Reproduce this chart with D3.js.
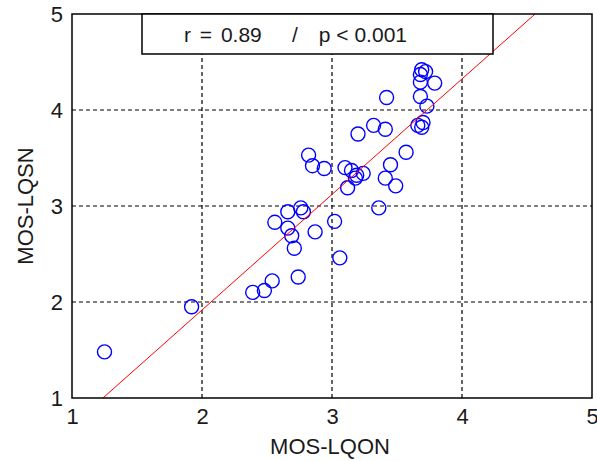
<!DOCTYPE html>
<html><head><meta charset="utf-8">
<script src="https://cdn.jsdelivr.net/npm/d3@7"></script>
<style>body{margin:0;background:#fff}svg{display:block}</style>
</head><body>
<script>
const xValues = [1.25,1.92,2.39,2.48,2.54,2.74,2.71,2.69,2.66,2.56,2.66,2.76,2.78,2.87,3.02,3.06,3.36,2.82,2.85,2.94,3.10,3.15,3.19,3.24,3.18,3.12,3.20,3.32,3.41,3.45,3.41,3.49,3.57,3.42,3.69,3.68,3.72,3.68,3.79,3.68,3.73,3.66,3.69,3.70];
const yValues = [1.48,1.95,2.10,2.12,2.22,2.26,2.56,2.69,2.77,2.83,2.94,2.98,2.94,2.73,2.84,2.46,2.98,3.53,3.42,3.39,3.40,3.37,3.32,3.34,3.29,3.19,3.75,3.84,3.80,3.43,3.29,3.21,3.56,4.13,4.42,4.37,4.40,4.29,4.28,4.14,4.04,3.84,3.82,3.87];
const xTicks = [1,2,3,4,5];
const yTicks = [1,2,3,4,5];
const fitLine = [[1.238,1],[4.562,5]];
const legendParts = ["r = 0.89", "/", "p < 0.001"];
const xLabel = "MOS-LQON";
const yLabel = "MOS-LQSN";

const W = 597, H = 461;
const svg = d3.select("body").append("svg").attr("width", W).attr("height", H);
const x = d3.scaleLinear().domain([1,5]).range([72,592]);
const y = d3.scaleLinear().domain([1,5]).range([398,14]);
const font = "'Liberation Sans', Arial, sans-serif";
const txt = "#1a1a1a";

// grid
svg.append("g").selectAll("line").data(xTicks.slice(1,-1)).join("line")
  .attr("x1", d=>x(d)).attr("x2", d=>x(d)).attr("y1", y(1)).attr("y2", y(5))
  .attr("stroke","#000").attr("stroke-width",1.2).attr("stroke-dasharray","4,3");
svg.append("g").selectAll("line").data(yTicks.slice(1,-1)).join("line")
  .attr("y1", d=>y(d)).attr("y2", d=>y(d)).attr("x1", x(1)).attr("x2", x(5))
  .attr("stroke","#000").attr("stroke-width",1.2).attr("stroke-dasharray","4,3");

// points
svg.append("g").selectAll("circle").data(xValues.map((v,i)=>[v,yValues[i]])).join("circle")
  .attr("cx", d=>x(d[0])).attr("cy", d=>y(d[1])).attr("r",7)
  .attr("fill","none").attr("stroke","#0000ff").attr("stroke-width",1.4);

// fit line
svg.append("line")
  .attr("x1", x(fitLine[0][0])).attr("y1", y(fitLine[0][1]))
  .attr("x2", x(fitLine[1][0])).attr("y2", y(fitLine[1][1]))
  .attr("stroke","#ff0000").attr("stroke-width",1);

// axes box
svg.append("rect").attr("x", x(1)).attr("y", y(5)).attr("width", x(5)-x(1)).attr("height", y(1)-y(5))
  .attr("fill","none").attr("stroke","#000").attr("stroke-width",1.5);

// axes (tick labels)
const xAxis = d3.axisBottom(x).tickValues(xTicks).tickSize(0).tickPadding(10).tickFormat(d3.format("d"));
const gx = svg.append("g").attr("transform",`translate(0,${y(1)})`).call(xAxis);
gx.select(".domain").remove();
gx.selectAll("text").attr("font-family",font).attr("font-size",22).attr("fill",txt);
const yAxis = d3.axisLeft(y).tickValues(yTicks).tickSize(0).tickPadding(9).tickFormat(d3.format("d"));
const gy = svg.append("g").attr("transform",`translate(${x(1)},0)`).call(yAxis);
gy.select(".domain").remove();
gy.selectAll("text").attr("font-family",font).attr("font-size",22).attr("fill",txt);

// legend box
svg.append("rect").attr("x",142).attr("y",y(5)).attr("width",351).attr("height",40)
  .attr("fill","#fff").attr("stroke","#000").attr("stroke-width",1.5);
const lg = svg.append("g").attr("font-family",font).attr("font-size",21).attr("fill",txt);
lg.append("text").attr("x",184).attr("y",42).attr("word-spacing",3).text(legendParts[0]);
lg.append("text").attr("x",295).attr("y",42).attr("text-anchor","middle").text(legendParts[1]);
lg.append("text").attr("x",407).attr("y",42).attr("text-anchor","end").text(legendParts[2]);

// labels
svg.append("text").attr("x",330).attr("y",454).attr("text-anchor","middle")
  .attr("font-family",font).attr("font-size",22).attr("fill",txt).text(xLabel);
svg.append("text").attr("transform",`translate(33,${(y(1)+y(5))/2}) rotate(-90)`).attr("text-anchor","middle")
  .attr("font-family",font).attr("font-size",22).attr("fill",txt).text(yLabel);
</script>
</body></html>
